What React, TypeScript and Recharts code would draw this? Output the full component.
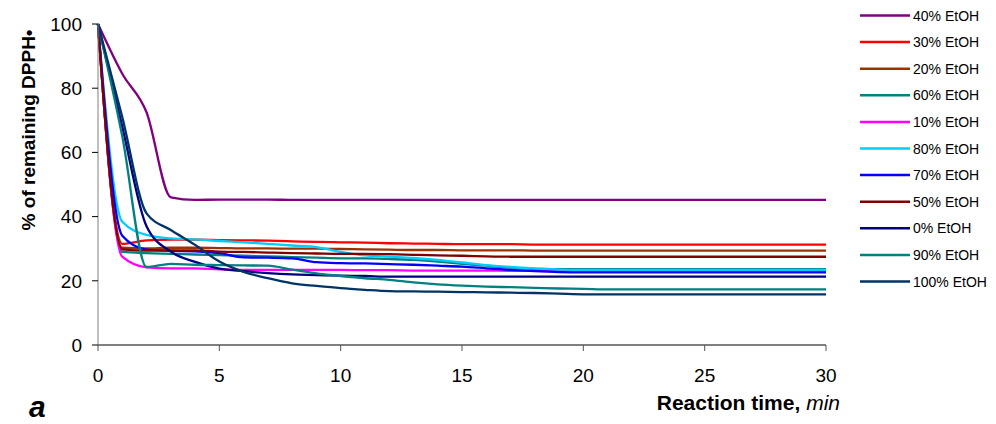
import React from "react";
import { LineChart, Line, XAxis, YAxis, Label } from "recharts";

// reaction time, min
const times = [
  0, 1, 2, 3, 4, 5, 6, 7, 8, 9, 10, 11, 12, 13, 14, 15, 16, 17, 18, 19, 20, 21,
  22, 23, 24, 25, 26, 27, 28, 29, 30,
];

// % of remaining DPPH• per solvent
const etoh40 = [
  100, 84.5, 72.5, 46, 45.2, 45.3, 45.3, 45.3, 45.2, 45.2, 45.2, 45.2, 45.2,
  45.2, 45.2, 45.2, 45.2, 45.2, 45.2, 45.2, 45.2, 45.2, 45.2, 45.2, 45.2, 45.2,
  45.2, 45.2, 45.2, 45.2, 45.2,
];
const etoh30 = [
  100, 31.5, 32.6, 32.8, 32.8, 32.7, 32.6, 32.5, 32.3, 32.1, 32.0, 31.9, 31.7,
  31.6, 31.5, 31.4, 31.4, 31.4, 31.3, 31.3, 31.3, 31.3, 31.3, 31.3, 31.3, 31.3,
  31.3, 31.3, 31.3, 31.3, 31.3,
];
const etoh20 = [
  100, 30.3, 30.1, 30.3, 30.3, 30.2, 30.1, 30.1, 30.0, 30.0, 29.9, 29.8, 29.7,
  29.6, 29.6, 29.5, 29.5, 29.5, 29.4, 29.4, 29.4, 29.4, 29.4, 29.4, 29.4, 29.4,
  29.4, 29.4, 29.4, 29.4, 29.4,
];
const etoh60 = [
  100, 29.0, 28.6, 28.4, 28.2, 28.0, 27.8, 27.6, 27.4, 27.2, 27.0, 27.0, 26.8,
  26.5, 26.0, 25.3, 24.7, 24.1, 23.7, 23.6, 23.6, 23.6, 23.6, 23.6, 23.6, 23.6,
  23.6, 23.6, 23.6, 23.6, 23.6,
];
const etoh10 = [
  100, 27.5, 24.2, 23.9, 23.9, 23.6, 23.4, 23.4, 23.4, 23.4, 23.4, 23.3, 23.3,
  23.2, 23.2, 23.2, 23.2, 23.1, 23.1, 23.0, 23.0, 23.0, 23.0, 23.0, 23.0, 23.0,
  23.0, 23.0, 23.0, 23.0, 23.0,
];
const etoh80 = [
  100, 38.4, 34.3, 33.2, 32.9, 32.4, 32.0, 31.5, 31.0, 30.5, 29.0, 27.9, 27.5,
  27.1, 26.5, 25.7, 24.9, 24.3, 23.9, 23.5, 23.4, 23.4, 23.4, 23.4, 23.4, 23.4,
  23.4, 23.4, 23.4, 23.4, 23.4,
];
const etoh70 = [
  100, 34, 29.7, 29.3, 29.2, 28.6, 27.3, 27.2, 27.0, 25.8, 25.5, 25.4, 25.2,
  25.0, 24.7, 24.4, 23.9, 23.4, 23.0, 22.7, 22.6, 22.6, 22.6, 22.6, 22.6, 22.6,
  22.6, 22.6, 22.6, 22.6, 22.6,
];
const etoh50 = [
  100, 29.8, 29.4, 29.5, 29.5, 29.1, 29.0, 28.8, 28.6, 28.5, 28.4, 28.4, 28.3,
  28.1, 27.9, 27.8, 27.6, 27.5, 27.5, 27.5, 27.5, 27.5, 27.5, 27.5, 27.5, 27.5,
  27.5, 27.5, 27.5, 27.5, 27.5,
];
const etoh0 = [
  100, 68, 37, 29.1, 25.9, 23.8, 23.0, 22.4, 22.0, 21.8, 21.6, 21.5, 21.3, 21.3,
  21.3, 21.3, 21.3, 21.3, 21.3, 21.3, 21.3, 21.3, 21.3, 21.3, 21.3, 21.3, 21.3,
  21.3, 21.3, 21.3, 21.3,
];
const etoh90 = [
  100, 65, 24.3, 25.3, 25.0, 24.9, 24.8, 24.7, 23.5, 22.3, 21.5, 20.8, 20.3,
  19.5, 18.9, 18.5, 18.2, 18.0, 17.8, 17.6, 17.5, 17.3, 17.3, 17.3, 17.3, 17.3,
  17.3, 17.3, 17.3, 17.3, 17.3,
];
const etoh100 = [
  100, 71, 41, 35.8, 31.2, 26.0, 22.8, 20.8, 19.2, 18.4, 17.7, 17.2, 16.8, 16.7,
  16.6, 16.5, 16.4, 16.3, 16.2, 16.0, 15.8, 15.8, 15.8, 15.8, 15.8, 15.8, 15.8,
  15.8, 15.8, 15.8, 15.8,
];

const xTicks = [0, 5, 10, 15, 20, 25, 30];
const yTicks = [0, 20, 40, 60, 80, 100];

const series = [
  { key: "e40", name: "40% EtOH", values: etoh40, color: "#800080" },
  { key: "e30", name: "30% EtOH", values: etoh30, color: "#ff0000" },
  { key: "e20", name: "20% EtOH", values: etoh20, color: "#993300" },
  { key: "e60", name: "60% EtOH", values: etoh60, color: "#008080" },
  { key: "e10", name: "10% EtOH", values: etoh10, color: "#ff00ff" },
  { key: "e80", name: "80% EtOH", values: etoh80, color: "#00ccff" },
  { key: "e70", name: "70% EtOH", values: etoh70, color: "#0000ff" },
  { key: "e50", name: "50% EtOH", values: etoh50, color: "#800000" },
  { key: "e0", name: "0% EtOH", values: etoh0, color: "#000080" },
  { key: "e90", name: "90% EtOH", values: etoh90, color: "#008080" },
  { key: "e100", name: "100% EtOH", values: etoh100, color: "#003366" },
];

const data = times.map((t, i) => {
  const row: Record<string, number> = { t };
  series.forEach((s) => {
    row[s.key] = s.values[i];
  });
  return row;
});

const FONT = "'Liberation Sans', Arial, sans-serif";

function LegendBox() {
  return (
    <svg width={128} height={300} style={{ display: "block", overflow: "visible" }}>
      {series.map((s, i) => {
        const y = 7.5 + i * 26.6;
        return (
          <g key={s.key}>
            <line x1={0} x2={50} y1={y} y2={y} stroke={s.color} strokeWidth={2.5} />
            <text x={53} y={y + 5} fontSize={14} fontFamily={FONT} fill="#000">
              {s.name}
            </text>
          </g>
        );
      })}
    </svg>
  );
}

function XTick({ x, y, payload }: any) {
  return (
    <text
      x={x}
      y={y}
      dy={23}
      textAnchor="middle"
      fontSize={19}
      fontFamily={FONT}
      fill="#000"
    >
      {payload.value}
    </text>
  );
}

export default function App() {
  return (
    <div style={{ position: "relative", width: 980, height: 416, fontFamily: FONT }}>
      <LineChart
        width={980}
        height={416}
        data={data}
        margin={{ top: 16, right: 162, bottom: 49, left: 30 }}
      >
        <XAxis
          dataKey="t"
          type="number"
          domain={[0, 30]}
          ticks={xTicks}
          interval={0}
          height={30}
          stroke="#000"
          tickSize={6}
          tickMargin={8}
          tickLine={{ stroke: "#555" }}
          tick={<XTick />}
        >
          <Label
            content={() => (
              <text
                x={21}
                y={409}
                fontSize={30}
                fontWeight="bold"
                fontStyle="italic"
                fontFamily={FONT}
                fill="#000"
              >
                a
              </text>
            )}
          />
          <Label
            content={() => (
              <text
                x={832}
                y={402}
                textAnchor="end"
                fontSize={21}
                fontWeight="bold"
                fontFamily={FONT}
                fill="#000"
              >
                Reaction time,{" "}
                <tspan fontStyle="italic" fontWeight="normal">
                  min
                </tspan>
              </text>
            )}
          />
        </XAxis>
        <YAxis
          type="number"
          domain={[0, 100]}
          ticks={yTicks}
          interval={0}
          width={60}
          stroke="#808080"
          tickSize={6}
          tickMargin={10}
          tickLine={{ stroke: "#000" }}
          tick={{ fill: "#000", fontSize: 19, fontFamily: FONT }}
        >
          <Label
            content={({ viewBox }: any) => {
              const cx = viewBox.x - 3;
              const cy = viewBox.y + viewBox.height * 0.33;
              return (
                <text
                  x={cx}
                  y={cy}
                  transform={`rotate(-90, ${cx}, ${cy})`}
                  textAnchor="middle"
                  fontSize={19}
                  fontWeight="bold"
                  fontFamily={FONT}
                  fill="#000"
                >
                  % of remaining DPPH•
                </text>
              );
            }}
          />
        </YAxis>
        {series.map((s) => (
          <Line
            key={s.key}
            dataKey={s.key}
            name={s.name}
            type="monotone"
            stroke={s.color}
            strokeWidth={2.3}
            dot={false}
            isAnimationActive={false}
          />
        ))}
      </LineChart>
      <div style={{ position: "absolute", left: 852, top: 0 }}>
        <LegendBox />
      </div>
    </div>
  );
}
